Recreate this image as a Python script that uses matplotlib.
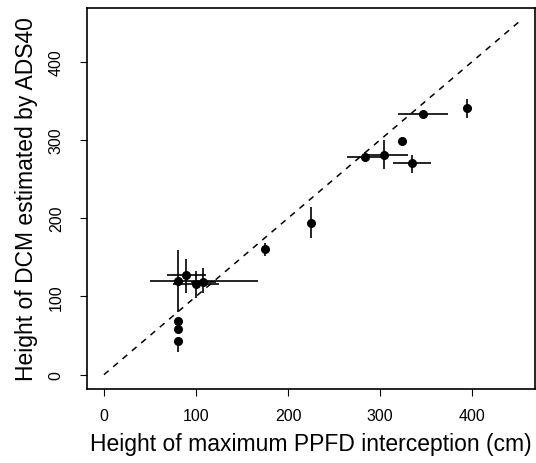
import matplotlib
matplotlib.use("Agg")
import matplotlib.pyplot as plt
import numpy as np

plt.rcParams['font.family'] = ['Liberation Sans', 'DejaVu Sans']

# measured vs estimated heights (cm)
x_obs = [80, 89, 100, 108, 80, 80, 80, 175, 225, 284, 304, 324, 335, 346, 394]
y_est = [120, 127, 116, 119, 68, 58, 43, 160, 194, 278, 281, 298, 270, 333, 340]
x_lo = [50, 69, 75, 95, 80, 80, 80, 175, 225, 264, 285, 324, 314, 319, 394]
x_hi = [167, 111, 125, 122, 80, 80, 80, 175, 225, 305, 330, 324, 355, 374, 394]
y_lo = [80, 104, 98, 104, 68, 58, 29, 151, 175, 272, 263, 292, 258, 329, 328]
y_hi = [159, 148, 133, 136, 68, 58, 43, 168, 214, 284, 300, 304, 281, 337, 352]

x_obs = np.array(x_obs); y_est = np.array(y_est)
xerr = [x_obs - np.array(x_lo), np.array(x_hi) - x_obs]
yerr = [y_est - np.array(y_lo), np.array(y_hi) - y_est]

fig = plt.figure(figsize=(5.36, 4.64), dpi=100)
ax = fig.add_axes([0.163, 0.16, 0.835, 0.82])

ax.plot([0, 450], [0, 450], color='black', linestyle=(0, (4, 4)), linewidth=1.1)
ax.errorbar(x_obs, y_est, xerr=xerr, yerr=yerr, fmt='o', color='black',
            markersize=5.5, elinewidth=1.2, capsize=0)

ax.set_xlim(-18, 468)
ax.set_ylim(-18, 468)
ax.set_xticks([0, 100, 200, 300, 400])
ax.set_yticks([0, 100, 200, 300, 400])
ax.set_yticklabels(['0', '100', '200', '300', '400'], rotation=90, va='center')
ax.tick_params(length=5, width=0.8, labelsize=11.5)
ax.tick_params(axis='x', pad=9)
ax.tick_params(axis='y', pad=12)
ax.set_xlabel('Height of maximum PPFD interception (cm)', fontsize=16.5, labelpad=6)
ax.set_ylabel('Height of DCM estimated by ADS40', fontsize=16.5, labelpad=8)
for s in ax.spines.values():
    s.set_linewidth(1.2)

fig.savefig('out.png', dpi=100)
